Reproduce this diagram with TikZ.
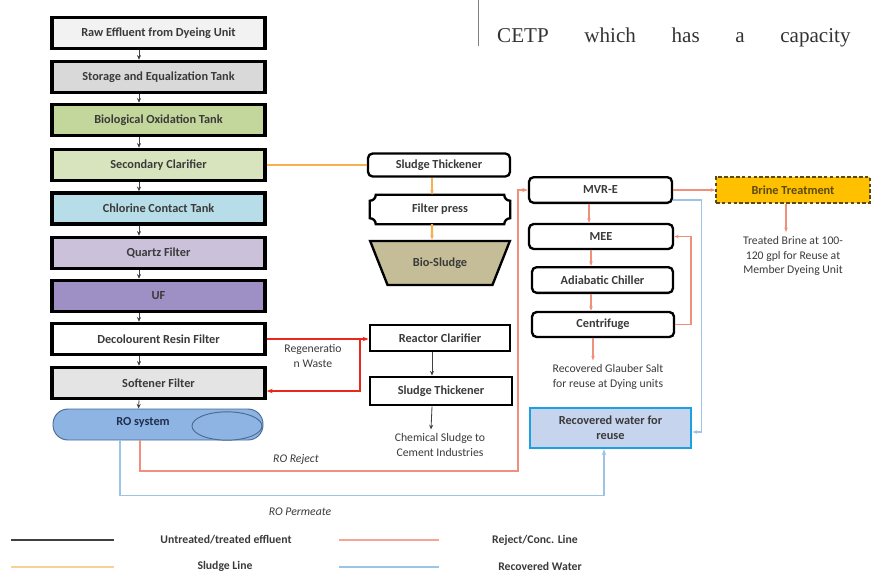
\documentclass[tikz,border=0pt]{standalone}
\usepackage{fontspec}
\setmainfont{Carlito}
\newfontfamily\pagefont{Liberation Serif}
\usepackage{tikz}
\usetikzlibrary{arrows.meta,positioning,calc,shapes.geometric}
\definecolor{boxtext}{HTML}{3A3A3A}
\definecolor{rawgray}{HTML}{F2F2F2}
\definecolor{storegray}{HTML}{D9D9D9}
\definecolor{biogreen}{HTML}{C3D69B}
\definecolor{clargreen}{HTML}{D7E4BD}
\definecolor{chlorblue}{HTML}{B7DEE8}
\definecolor{quartzlilac}{HTML}{CCC1DA}
\definecolor{ufpurple}{HTML}{9E8FC4}
\definecolor{softgray}{HTML}{E4E4E4}
\definecolor{roblue}{HTML}{8DB4E2}
\definecolor{roedge}{HTML}{4A6A94}
\definecolor{rotext}{HTML}{1F2F4F}
\definecolor{sludgetan}{HTML}{C4BD97}
\definecolor{brineamber}{HTML}{FFC000}
\definecolor{brineedge}{HTML}{5A4A10}
\definecolor{waterfill}{HTML}{C6D4EE}
\definecolor{wateredge}{HTML}{1BA1E2}
\definecolor{sludgeline}{HTML}{F6B14E}
\definecolor{rejectline}{HTML}{F0907A}
\definecolor{regenred}{HTML}{E8281E}
\definecolor{waterline}{HTML}{9DC3E6}
\definecolor{effluentline}{HTML}{404040}

\tikzset{
  boxfont/.style={font=\fontsize{10.5}{12.5}\selectfont\bfseries, text=boxtext},
  tankbox/.style={boxfont, draw=black, line width=3pt, minimum width=6.39cm, minimum height=0.93cm, inner sep=0pt},
  squarebox/.style={boxfont, draw=black, line width=2.5pt, fill=white, minimum width=4.2cm, minimum height=0.8cm, inner sep=0pt},
  roundbox/.style={boxfont, draw=black, line width=2pt, rounded corners=4pt, fill=white, minimum width=4.29cm, minimum height=0.77cm, inner sep=0pt},
  flowtext/.style={font=\fontsize{10}{12.5}\selectfont, text=boxtext, align=center},
  legendtext/.style={font=\fontsize{10}{12}\selectfont\bfseries, text=boxtext},
  effluent/.style={effluentline, line width=0.7pt, -{Stealth[length=4pt,width=3.5pt]}},
  sludgeflow/.style={sludgeline, line width=1.8pt},
  rejectflow/.style={rejectline, line width=1.4pt},
  regenflow/.style={regenred, line width=1.3pt},
  waterflow/.style={waterline, line width=1.3pt},
}

\begin{document}
\begin{tikzpicture}[x=0.03cm, y=-0.03cm]
    \useasboundingbox (0,0) rectangle (872,575);
    \clip (0,0) rectangle (872,575);

    % Page text
    \draw[gray, line width=0.6pt] (478,0) -- (478,46);
    \node[font=\pagefont\fontsize{18}{20}\selectfont, text=black!80, text width=10.6cm, anchor=base west, inner sep=0pt] (pagetext) at (497,42) {CETP\hfill which\hfill has\hfill a\hfill capacity};

    % Main treatment train
    \node[tankbox, fill=rawgray] (raw) at (158.5,33) {Raw Effluent from Dyeing Unit};
    \node[tankbox, fill=storegray] (store) at (158.5,77) {Storage and Equalization Tank};
    \node[tankbox, fill=biogreen] (bio) at (158.5,120) {Biological Oxidation Tank};
    \node[tankbox, fill=clargreen] (sec) at (158.5,165) {Secondary Clarifier};
    \node[tankbox, fill=chlorblue] (chlor) at (158.5,208.5) {Chlorine Contact Tank};
    \node[tankbox, fill=quartzlilac] (quartz) at (158.5,253) {Quartz Filter};
    \node[tankbox, fill=ufpurple] (uf) at (158.5,296) {UF};
    \node[tankbox, fill=white] (decol) at (158.5,339) {Decolourent Resin Filter};
    \node[tankbox, fill=softgray] (soft) at (158.5,383) {Softener Filter};

    % RO system
    \node[draw=roedge, fill=roblue, line width=0.8pt, rounded corners=0.45cm, minimum width=6.3cm, minimum height=0.93cm] (ro) at (158,424.5) {};
    \node[ellipse, draw=roedge, fill=roblue, line width=0.8pt, minimum width=2.1cm, minimum height=0.85cm, inner sep=0pt] (roend) at (227,426) {};
    \node[boxfont, text=rotext] (rolabel) at (143,422) {RO system};

    \foreach \a/\b in {raw/store, store/bio, bio/sec, sec/chlor, chlor/quartz, quartz/uf, uf/decol, decol/soft, soft/ro}
        \draw[effluent] ($(\a.south)+(-19.5,0)$) -- ($(\b.north)+(-19.5,0)$);

    % Sludge handling
    \node[roundbox, minimum width=4.26cm, minimum height=0.69cm] (thicka) at (439,165) {Sludge Thickener};
    \node[boxfont, minimum width=4.2cm, minimum height=0.87cm, inner sep=0pt] (press) at (440,209.5) {Filter press};
    \draw[line width=2pt] ($(press.north west)+(6,0)$) -- ($(press.north east)+(-6,0)$)
        arc[start angle=180, end angle=270, radius=0.18cm] -- ($(press.south east)+(0,-6)$)
        arc[start angle=90, end angle=180, radius=0.18cm] -- ($(press.south west)+(6,0)$)
        arc[start angle=0, end angle=90, radius=0.18cm] -- ($(press.north west)+(0,6)$)
        arc[start angle=270, end angle=360, radius=0.18cm] -- cycle;
    \node[boxfont, trapezium, shape border rotate=180, trapezium angle=50, trapezium stretches=true, minimum width=4.2cm, minimum height=1.32cm, draw=black, line width=2pt, fill=sludgetan, inner sep=0pt] (biosludge) at (440,263) {Bio-Sludge};

    \draw[sludgeflow] (sec.east) -- (thicka.west);
    \draw[sludgeflow, -{Stealth[length=4pt]}] ($(thicka.south)+(-7,0)$) -- ($(press.north)+(-8,0)$);
    \draw[sludgeflow, -{Stealth[length=4pt]}] ($(press.south)+(-8,0)$) -- ($(biosludge.north)+(-8,0)$);

    % Regeneration waste
    \node[squarebox, minimum height=0.78cm] (reactor) at (440,338) {Reactor Clarifier};
    \node[squarebox, minimum width=4.26cm, minimum height=0.84cm] (thickb) at (441,391) {Sludge Thickener};
    \node[flowtext] (chemical) at (440,445) {Chemical Sludge to\\Cement Industries};
    \coordinate (regenjoin) at (360,339);

    \draw[regenflow, -{Stealth[length=5pt]}] (decol.east) -- (decol.east -| reactor.west);
    \draw[regenflow, -{Stealth[length=5pt]}] (regenjoin) |- ($(soft.east)+(0,8)$);
    \node[flowtext] (regenlabel) at (313,356) {Regeneratio\\n Waste};
    \draw[effluent] ($(reactor.south)+(-8,0)$) -- ($(thickb.north)+(-9,0)$);
    \draw[effluent] ($(thickb.south)+(-9,0)$) -- ($(chemical.north)+(-9,0)$);

    % Salt recovery
    \node[roundbox] (mvre) at (600.5,190) {MVR-E};
    \node[roundbox, minimum width=4.32cm, minimum height=0.75cm] (mee) at (601,236.5) {MEE};
    \node[roundbox, minimum width=4.23cm] (chiller) at (602.5,280) {Adiabatic Chiller};
    \node[roundbox, minimum width=4.26cm, minimum height=0.75cm] (centri) at (603,324.5) {Centrifuge};
    \node[flowtext] (glauber) at (608,377) {Recovered Glauber Salt\\for reuse at Dying units};

    \draw[rejectflow, -{Stealth[length=4pt]}] ($(mvre.south)+(-11.5,0)$) -- ($(mee.north)+(-12,0)$);
    \draw[rejectflow, -{Stealth[length=4pt]}] ($(mee.south)+(-10,0)$) -- ($(chiller.north)+(-11.5,0)$);
    \draw[rejectflow, -{Stealth[length=4pt]}] ($(chiller.south)+(-11.5,0)$) -- ($(centri.north)+(-12,0)$);
    \draw[rejectflow, -{Stealth[length=4pt]}] ($(centri.south)+(-10,0)$) -- ($(glauber.north)+(-15,0)$);
    \draw[rejectflow, -{Stealth[length=4pt]}] (centri.east) -| ($(mee.east)+(17,0)$) -- (mee.east);

    % Brine treatment
    \node[boxfont, text=brineedge, draw=brineedge, dash pattern=on 3pt off 2pt, line width=1.3pt, fill=brineamber, minimum width=4.62cm, minimum height=0.78cm, inner sep=0pt] (brine) at (793,190) {Brine Treatment};
    \node[flowtext] (brinetext) at (793,256) {Treated Brine at 100-\\120 gpl for Reuse at\\Member Dyeing Unit};
    \draw[rejectflow, -{Stealth[length=4pt]}] (mvre.east) -- (brine.west);
    \draw[rejectflow, -{Stealth[length=4pt]}] ($(brine.south)+(-7,0)$) -- ($(brinetext.north)+(-7,0)$);

    % Recovered water
    \node[boxfont, draw=wateredge, line width=2.2pt, fill=waterfill, minimum width=4.83cm, minimum height=1.2cm, align=center, inner sep=0pt] (recwater) at (610.5,428) {Recovered water for\\reuse};
    \draw[waterflow, -{Stealth[length=4pt]}] ($(mvre.east)+(0,10)$) -| ($(recwater.east)+(9,4)$) -- ($(recwater.east)+(0,4)$);

    % RO reject and permeate
    \draw[rejectflow, -{Stealth[length=5pt]}] ($(ro.south)+(-18,0)$) |- (518,471) |- (mvre.west);
    \draw[waterflow, -{Stealth[length=5pt]}] ($(ro.south)+(-38,0)$) |- ($(recwater.south)+(-6.5,46)$) -- ($(recwater.south)+(-6.5,0)$);
    \node[flowtext, font=\fontsize{10}{12}\selectfont\itshape] (rejectlabel) at (296,459) {RO Reject};
    \node[flowtext, font=\fontsize{10}{12}\selectfont\itshape] (permeatelabel) at (300,512) {RO Permeate};

    % Legend
    \draw[effluentline, line width=1.6pt] (11,540) -- (114,540);
    \node[legendtext] (legeffluent) at (226,540) {Untreated/treated effluent};
    \draw[rejectline!80, line width=2.5pt] (339,540) -- (439,540);
    \node[legendtext] (legreject) at (535,540) {Reject/Conc. Line};
    \draw[sludgeline!60, line width=2.5pt] (11,567) -- (114,567);
    \node[legendtext] (legsludge) at (225,566) {Sludge Line};
    \draw[waterline, line width=2.5pt] (339,567) -- (439,567);
    \node[legendtext] (legwater) at (540,566) {Recovered Water};
\end{tikzpicture}
\end{document}
